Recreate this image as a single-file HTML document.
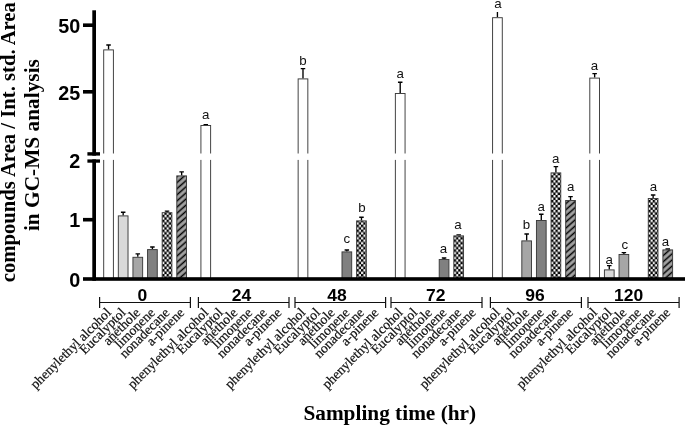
<!DOCTYPE html>
<html><head><meta charset="utf-8"><title>chart</title>
<style>
html,body{margin:0;padding:0;background:#fff;}
body{width:685px;height:425px;overflow:hidden;}
svg{display:block;filter:grayscale(1);}
text{font-family:"Liberation Sans",sans-serif;}
.ser{font-family:"Liberation Serif",serif;}
</style></head><body>
<svg width="685" height="425" viewBox="0 0 685 425">

<rect width="685" height="425" fill="#fff"/>

<path d="M108.55,49.40 V44.70 M106.30,45.00 H110.80" stroke="#000" stroke-width="1.35" fill="none"/>
<rect x="103.70" y="49.90" width="9.70" height="229.10" fill="#ffffff" stroke="#3a3a3a" stroke-width="0.95"/>
<path d="M123.17,215.40 V211.90 M120.92,212.20 H125.42" stroke="#000" stroke-width="1.35" fill="none"/>
<rect x="118.32" y="215.90" width="9.70" height="63.10" fill="#d9d9d9" stroke="#3a3a3a" stroke-width="0.95"/>
<path d="M137.79,256.80 V253.50 M135.54,253.80 H140.04" stroke="#000" stroke-width="1.35" fill="none"/>
<rect x="132.94" y="257.30" width="9.70" height="21.70" fill="#a6a6a6" stroke="#3a3a3a" stroke-width="0.95"/>
<path d="M152.41,249.10 V246.70 M150.16,247.00 H154.66" stroke="#000" stroke-width="1.35" fill="none"/>
<rect x="147.56" y="249.60" width="9.70" height="29.40" fill="#808080" stroke="#3a3a3a" stroke-width="0.95"/>
<pattern id="c0" width="4.44" height="4.94" patternUnits="userSpaceOnUse" x="162.18" y="279.00"><rect width="4.44" height="4.94" fill="#000"/><rect x="2.2800000000000002" y="0.06" width="2.1" height="2.35" fill="#fff"/><rect x="0.06" y="2.5300000000000002" width="2.1" height="2.35" fill="#fff"/></pattern>
<path d="M167.03,212.20 V210.80 M164.78,211.10 H169.28" stroke="#000" stroke-width="1.35" fill="none"/>
<rect x="162.18" y="212.70" width="9.70" height="66.30" fill="url(#c0)" stroke="#3a3a3a" stroke-width="0.95"/>
<pattern id="h0" width="20" height="4.584" patternUnits="userSpaceOnUse" patternTransform="translate(176.80,274.50) rotate(-41.5) translate(0,-2.292)"><rect width="20" height="4.584" fill="#a2a2a2"/><rect y="1.542" width="20" height="1.5" fill="#000"/></pattern>
<path d="M181.65,175.40 V171.50 M179.40,171.80 H183.90" stroke="#000" stroke-width="1.35" fill="none"/>
<rect x="176.80" y="175.90" width="9.70" height="103.10" fill="url(#h0)" stroke="#3a3a3a" stroke-width="0.95"/>
<path d="M205.77,125.00 V124.30 M203.52,124.60 H208.02" stroke="#000" stroke-width="1.35" fill="none"/>
<rect x="200.92" y="125.50" width="9.70" height="153.50" fill="#ffffff" stroke="#3a3a3a" stroke-width="0.95"/>
<text x="205.77" y="119.30" font-size="13.3" text-anchor="middle" fill="#111">a</text>
<path d="M302.99,78.40 V68.30 M300.74,68.60 H305.24" stroke="#000" stroke-width="1.35" fill="none"/>
<rect x="298.14" y="78.90" width="9.70" height="200.10" fill="#ffffff" stroke="#3a3a3a" stroke-width="0.95"/>
<text x="302.99" y="64.70" font-size="13.3" text-anchor="middle" fill="#111">b</text>
<path d="M346.85,251.40 V249.70 M344.60,250.00 H349.10" stroke="#000" stroke-width="1.35" fill="none"/>
<rect x="342.00" y="251.90" width="9.70" height="27.10" fill="#808080" stroke="#3a3a3a" stroke-width="0.95"/>
<text x="346.85" y="243.30" font-size="13.3" text-anchor="middle" fill="#111">c</text>
<pattern id="c2" width="4.44" height="4.94" patternUnits="userSpaceOnUse" x="356.62" y="279.00"><rect width="4.44" height="4.94" fill="#000"/><rect x="2.2800000000000002" y="0.06" width="2.1" height="2.35" fill="#fff"/><rect x="0.06" y="2.5300000000000002" width="2.1" height="2.35" fill="#fff"/></pattern>
<path d="M361.47,220.40 V216.90 M359.22,217.20 H363.72" stroke="#000" stroke-width="1.35" fill="none"/>
<rect x="356.62" y="220.90" width="9.70" height="58.10" fill="url(#c2)" stroke="#3a3a3a" stroke-width="0.95"/>
<text x="362.07" y="212.30" font-size="13.3" text-anchor="middle" fill="#111">b</text>
<path d="M400.21,93.00 V81.90 M397.96,82.20 H402.46" stroke="#000" stroke-width="1.35" fill="none"/>
<rect x="395.36" y="93.50" width="9.70" height="185.50" fill="#ffffff" stroke="#3a3a3a" stroke-width="0.95"/>
<text x="400.21" y="78.30" font-size="13.3" text-anchor="middle" fill="#111">a</text>
<path d="M444.07,259.00 V257.70 M441.82,258.00 H446.32" stroke="#000" stroke-width="1.35" fill="none"/>
<rect x="439.22" y="259.50" width="9.70" height="19.50" fill="#808080" stroke="#3a3a3a" stroke-width="0.95"/>
<text x="443.57" y="252.90" font-size="13.3" text-anchor="middle" fill="#111">a</text>
<pattern id="c3" width="4.44" height="4.94" patternUnits="userSpaceOnUse" x="453.84" y="279.00"><rect width="4.44" height="4.94" fill="#000"/><rect x="2.2800000000000002" y="0.06" width="2.1" height="2.35" fill="#fff"/><rect x="0.06" y="2.5300000000000002" width="2.1" height="2.35" fill="#fff"/></pattern>
<path d="M458.69,235.40 V234.50 M456.44,234.80 H460.94" stroke="#000" stroke-width="1.35" fill="none"/>
<rect x="453.84" y="235.90" width="9.70" height="43.10" fill="url(#c3)" stroke="#3a3a3a" stroke-width="0.95"/>
<text x="457.99" y="229.30" font-size="13.3" text-anchor="middle" fill="#111">a</text>
<path d="M497.43,17.20 V12.00" stroke="#000" stroke-width="1.35" fill="none"/>
<rect x="492.58" y="17.70" width="9.70" height="261.30" fill="#ffffff" stroke="#3a3a3a" stroke-width="0.95"/>
<text x="497.83" y="7.60" font-size="13.3" text-anchor="middle" fill="#111">a</text>
<path d="M526.67,240.40 V233.70 M524.42,234.00 H528.92" stroke="#000" stroke-width="1.35" fill="none"/>
<rect x="521.82" y="240.90" width="9.70" height="38.10" fill="#a6a6a6" stroke="#3a3a3a" stroke-width="0.95"/>
<text x="526.37" y="228.90" font-size="13.3" text-anchor="middle" fill="#111">b</text>
<path d="M541.29,220.00 V213.90 M539.04,214.20 H543.54" stroke="#000" stroke-width="1.35" fill="none"/>
<rect x="536.44" y="220.50" width="9.70" height="58.50" fill="#808080" stroke="#3a3a3a" stroke-width="0.95"/>
<text x="541.09" y="211.30" font-size="13.3" text-anchor="middle" fill="#111">a</text>
<pattern id="c4" width="4.44" height="4.94" patternUnits="userSpaceOnUse" x="551.06" y="279.00"><rect width="4.44" height="4.94" fill="#000"/><rect x="2.2800000000000002" y="0.06" width="2.1" height="2.35" fill="#fff"/><rect x="0.06" y="2.5300000000000002" width="2.1" height="2.35" fill="#fff"/></pattern>
<path d="M555.91,172.40 V166.30 M553.66,166.60 H558.16" stroke="#000" stroke-width="1.35" fill="none"/>
<rect x="551.06" y="172.90" width="9.70" height="106.10" fill="url(#c4)" stroke="#3a3a3a" stroke-width="0.95"/>
<text x="555.61" y="162.90" font-size="13.3" text-anchor="middle" fill="#111">a</text>
<pattern id="h4" width="20" height="4.584" patternUnits="userSpaceOnUse" patternTransform="translate(565.68,277.20) rotate(-41.5) translate(0,-2.292)"><rect width="20" height="4.584" fill="#a2a2a2"/><rect y="1.542" width="20" height="1.5" fill="#000"/></pattern>
<path d="M570.53,200.00 V196.30 M568.28,196.60 H572.78" stroke="#000" stroke-width="1.35" fill="none"/>
<rect x="565.68" y="200.50" width="9.70" height="78.50" fill="url(#h4)" stroke="#3a3a3a" stroke-width="0.95"/>
<text x="570.73" y="190.70" font-size="13.3" text-anchor="middle" fill="#111">a</text>
<path d="M594.65,77.60 V73.30 M592.40,73.60 H596.90" stroke="#000" stroke-width="1.35" fill="none"/>
<rect x="589.80" y="78.10" width="9.70" height="200.90" fill="#ffffff" stroke="#3a3a3a" stroke-width="0.95"/>
<text x="594.45" y="69.50" font-size="13.3" text-anchor="middle" fill="#111">a</text>
<path d="M609.27,269.40 V265.30 M607.02,265.60 H611.52" stroke="#000" stroke-width="1.35" fill="none"/>
<rect x="604.42" y="269.90" width="9.70" height="9.10" fill="#d9d9d9" stroke="#3a3a3a" stroke-width="0.95"/>
<text x="609.27" y="264.30" font-size="13.3" text-anchor="middle" fill="#111">a</text>
<path d="M623.89,254.00 V252.30 M621.64,252.60 H626.14" stroke="#000" stroke-width="1.35" fill="none"/>
<rect x="619.04" y="254.50" width="9.70" height="24.50" fill="#a6a6a6" stroke="#3a3a3a" stroke-width="0.95"/>
<text x="624.89" y="249.30" font-size="13.3" text-anchor="middle" fill="#111">c</text>
<pattern id="c5" width="4.44" height="4.94" patternUnits="userSpaceOnUse" x="648.28" y="279.00"><rect width="4.44" height="4.94" fill="#000"/><rect x="2.2800000000000002" y="0.06" width="2.1" height="2.35" fill="#fff"/><rect x="0.06" y="2.5300000000000002" width="2.1" height="2.35" fill="#fff"/></pattern>
<path d="M653.13,198.00 V194.70 M650.88,195.00 H655.38" stroke="#000" stroke-width="1.35" fill="none"/>
<rect x="648.28" y="198.50" width="9.70" height="80.50" fill="url(#c5)" stroke="#3a3a3a" stroke-width="0.95"/>
<text x="653.43" y="191.30" font-size="13.3" text-anchor="middle" fill="#111">a</text>
<pattern id="h5" width="20" height="4.584" patternUnits="userSpaceOnUse" patternTransform="translate(662.90,274.20) rotate(-41.5) translate(0,-2.292)"><rect width="20" height="4.584" fill="#a2a2a2"/><rect y="1.542" width="20" height="1.5" fill="#000"/></pattern>
<path d="M667.75,249.40 V248.70 M665.50,249.00 H670.00" stroke="#000" stroke-width="1.35" fill="none"/>
<rect x="662.90" y="249.90" width="9.70" height="29.10" fill="url(#h5)" stroke="#3a3a3a" stroke-width="0.95"/>
<text x="665.35" y="245.70" font-size="13.3" text-anchor="middle" fill="#111">a</text>
<rect x="102.20" y="153.5" width="12.70" height="6.4" fill="#fff"/>
<rect x="199.42" y="153.5" width="12.70" height="6.4" fill="#fff"/>
<rect x="296.64" y="153.5" width="12.70" height="6.4" fill="#fff"/>
<rect x="393.86" y="153.5" width="12.70" height="6.4" fill="#fff"/>
<rect x="491.08" y="153.5" width="12.70" height="6.4" fill="#fff"/>
<rect x="588.30" y="153.5" width="12.70" height="6.4" fill="#fff"/>
<rect x="92.3" y="10.3" width="3.7" height="270.5" fill="#000"/>
<rect x="83" y="277.2" width="602" height="3.6" fill="#000"/>
<rect x="92" y="155.6" width="4.4" height="3.8" fill="#fff"/>
<rect x="87.4" y="152.2" width="12.6" height="3.4" fill="#000"/>
<rect x="87.4" y="159.4" width="12.6" height="3.3" fill="#000"/>
<rect x="83" y="23.40" width="10" height="3.6" fill="#000"/>
<rect x="83" y="90.00" width="10" height="3.6" fill="#000"/>
<rect x="83" y="217.90" width="10" height="3.6" fill="#000"/>
<text x="80.2" y="33.0" font-size="19.8" font-weight="bold" text-anchor="end" fill="#000">50</text>
<text x="80.2" y="99.8" font-size="19.8" font-weight="bold" text-anchor="end" fill="#000">25</text>
<text x="80.2" y="167.6" font-size="19.8" font-weight="bold" text-anchor="end" fill="#000">2</text>
<text x="80.2" y="227.0" font-size="19.8" font-weight="bold" text-anchor="end" fill="#000">1</text>
<text x="80.2" y="287.0" font-size="19.8" font-weight="bold" text-anchor="end" fill="#000">0</text>
<path d="M99.60,297 V308 M190.40,297 V308 M99.60,302.5 H190.40" stroke="#111" stroke-width="1.2" fill="none"/>
<text transform="translate(142.30,300.6) scale(1.08,1)" font-size="16.2" font-weight="bold" text-anchor="middle" fill="#000">0</text>
<text class="ser" transform="translate(111.85,313.40) rotate(-45)" font-size="13.6" text-anchor="end" fill="#111" stroke="#111" stroke-width="0.2">phenylethyl alcohol</text>
<text class="ser" transform="translate(126.47,313.40) rotate(-45)" font-size="13.6" text-anchor="end" fill="#111" stroke="#111" stroke-width="0.2">Eucalyptol</text>
<text class="ser" transform="translate(141.09,313.40) rotate(-45)" font-size="13.6" text-anchor="end" fill="#111" stroke="#111" stroke-width="0.2">anethole</text>
<text class="ser" transform="translate(155.71,313.40) rotate(-45)" font-size="13.6" text-anchor="end" fill="#111" stroke="#111" stroke-width="0.2">limonene</text>
<text class="ser" transform="translate(170.33,313.40) rotate(-45)" font-size="13.6" text-anchor="end" fill="#111" stroke="#111" stroke-width="0.2">nonadecane</text>
<text class="ser" transform="translate(184.95,313.40) rotate(-45)" font-size="13.6" text-anchor="end" fill="#111" stroke="#111" stroke-width="0.2">a-pinene</text>
<path d="M198.40,297 V308 M289.00,297 V308 M198.40,302.5 H289.00" stroke="#111" stroke-width="1.2" fill="none"/>
<text transform="translate(241.50,300.6) scale(1.08,1)" font-size="16.2" font-weight="bold" text-anchor="middle" fill="#000">24</text>
<text class="ser" transform="translate(209.07,313.40) rotate(-45)" font-size="13.6" text-anchor="end" fill="#111" stroke="#111" stroke-width="0.2">phenylethyl alcohol</text>
<text class="ser" transform="translate(223.69,313.40) rotate(-45)" font-size="13.6" text-anchor="end" fill="#111" stroke="#111" stroke-width="0.2">Eucalyptol</text>
<text class="ser" transform="translate(238.31,313.40) rotate(-45)" font-size="13.6" text-anchor="end" fill="#111" stroke="#111" stroke-width="0.2">anethole</text>
<text class="ser" transform="translate(252.93,313.40) rotate(-45)" font-size="13.6" text-anchor="end" fill="#111" stroke="#111" stroke-width="0.2">limonene</text>
<text class="ser" transform="translate(267.55,313.40) rotate(-45)" font-size="13.6" text-anchor="end" fill="#111" stroke="#111" stroke-width="0.2">nonadecane</text>
<text class="ser" transform="translate(282.17,313.40) rotate(-45)" font-size="13.6" text-anchor="end" fill="#111" stroke="#111" stroke-width="0.2">a-pinene</text>
<path d="M295.00,297 V308 M385.60,297 V308 M295.00,302.5 H385.60" stroke="#111" stroke-width="1.2" fill="none"/>
<text transform="translate(337.00,300.6) scale(1.08,1)" font-size="16.2" font-weight="bold" text-anchor="middle" fill="#000">48</text>
<text class="ser" transform="translate(306.29,313.40) rotate(-45)" font-size="13.6" text-anchor="end" fill="#111" stroke="#111" stroke-width="0.2">phenylethyl alcohol</text>
<text class="ser" transform="translate(320.91,313.40) rotate(-45)" font-size="13.6" text-anchor="end" fill="#111" stroke="#111" stroke-width="0.2">Eucalyptol</text>
<text class="ser" transform="translate(335.53,313.40) rotate(-45)" font-size="13.6" text-anchor="end" fill="#111" stroke="#111" stroke-width="0.2">anethole</text>
<text class="ser" transform="translate(350.15,313.40) rotate(-45)" font-size="13.6" text-anchor="end" fill="#111" stroke="#111" stroke-width="0.2">limonene</text>
<text class="ser" transform="translate(364.77,313.40) rotate(-45)" font-size="13.6" text-anchor="end" fill="#111" stroke="#111" stroke-width="0.2">nonadecane</text>
<text class="ser" transform="translate(379.39,313.40) rotate(-45)" font-size="13.6" text-anchor="end" fill="#111" stroke="#111" stroke-width="0.2">a-pinene</text>
<path d="M391.00,297 V308 M482.00,297 V308 M391.00,302.5 H482.00" stroke="#111" stroke-width="1.2" fill="none"/>
<text transform="translate(435.80,300.6) scale(1.08,1)" font-size="16.2" font-weight="bold" text-anchor="middle" fill="#000">72</text>
<text class="ser" transform="translate(403.51,313.40) rotate(-45)" font-size="13.6" text-anchor="end" fill="#111" stroke="#111" stroke-width="0.2">phenylethyl alcohol</text>
<text class="ser" transform="translate(418.13,313.40) rotate(-45)" font-size="13.6" text-anchor="end" fill="#111" stroke="#111" stroke-width="0.2">Eucalyptol</text>
<text class="ser" transform="translate(432.75,313.40) rotate(-45)" font-size="13.6" text-anchor="end" fill="#111" stroke="#111" stroke-width="0.2">anethole</text>
<text class="ser" transform="translate(447.37,313.40) rotate(-45)" font-size="13.6" text-anchor="end" fill="#111" stroke="#111" stroke-width="0.2">limonene</text>
<text class="ser" transform="translate(461.99,313.40) rotate(-45)" font-size="13.6" text-anchor="end" fill="#111" stroke="#111" stroke-width="0.2">nonadecane</text>
<text class="ser" transform="translate(476.61,313.40) rotate(-45)" font-size="13.6" text-anchor="end" fill="#111" stroke="#111" stroke-width="0.2">a-pinene</text>
<path d="M490.40,297 V308 M581.40,297 V308 M490.40,302.5 H581.40" stroke="#111" stroke-width="1.2" fill="none"/>
<text transform="translate(534.90,300.6) scale(1.08,1)" font-size="16.2" font-weight="bold" text-anchor="middle" fill="#000">96</text>
<text class="ser" transform="translate(500.73,313.40) rotate(-45)" font-size="13.6" text-anchor="end" fill="#111" stroke="#111" stroke-width="0.2">phenylethyl alcohol</text>
<text class="ser" transform="translate(515.35,313.40) rotate(-45)" font-size="13.6" text-anchor="end" fill="#111" stroke="#111" stroke-width="0.2">Eucalyptol</text>
<text class="ser" transform="translate(529.97,313.40) rotate(-45)" font-size="13.6" text-anchor="end" fill="#111" stroke="#111" stroke-width="0.2">anethole</text>
<text class="ser" transform="translate(544.59,313.40) rotate(-45)" font-size="13.6" text-anchor="end" fill="#111" stroke="#111" stroke-width="0.2">limonene</text>
<text class="ser" transform="translate(559.21,313.40) rotate(-45)" font-size="13.6" text-anchor="end" fill="#111" stroke="#111" stroke-width="0.2">nonadecane</text>
<text class="ser" transform="translate(573.83,313.40) rotate(-45)" font-size="13.6" text-anchor="end" fill="#111" stroke="#111" stroke-width="0.2">a-pinene</text>
<path d="M588.00,297 V308 M679.10,297 V308 M588.00,302.5 H679.10" stroke="#111" stroke-width="1.2" fill="none"/>
<text transform="translate(628.60,300.6) scale(1.08,1)" font-size="16.2" font-weight="bold" text-anchor="middle" fill="#000">120</text>
<text class="ser" transform="translate(597.95,313.40) rotate(-45)" font-size="13.6" text-anchor="end" fill="#111" stroke="#111" stroke-width="0.2">phenylethyl alcohol</text>
<text class="ser" transform="translate(612.57,313.40) rotate(-45)" font-size="13.6" text-anchor="end" fill="#111" stroke="#111" stroke-width="0.2">Eucalyptol</text>
<text class="ser" transform="translate(627.19,313.40) rotate(-45)" font-size="13.6" text-anchor="end" fill="#111" stroke="#111" stroke-width="0.2">anethole</text>
<text class="ser" transform="translate(641.81,313.40) rotate(-45)" font-size="13.6" text-anchor="end" fill="#111" stroke="#111" stroke-width="0.2">limonene</text>
<text class="ser" transform="translate(656.43,313.40) rotate(-45)" font-size="13.6" text-anchor="end" fill="#111" stroke="#111" stroke-width="0.2">nonadecane</text>
<text class="ser" transform="translate(671.05,313.40) rotate(-45)" font-size="13.6" text-anchor="end" fill="#111" stroke="#111" stroke-width="0.2">a-pinene</text>
<text class="ser" x="303.4" y="420.3" font-size="21.3" font-weight="bold" fill="#000">Sampling time (hr)</text>
<text class="ser" transform="translate(14.7,282.2) rotate(-90)" font-size="20.68" font-weight="bold" fill="#000">compounds Area / Int. std. Area</text>
<text class="ser" transform="translate(39.0,231.1) rotate(-90)" font-size="21.35" font-weight="bold" fill="#000">in GC-MS analysis</text>
</svg></body></html>
